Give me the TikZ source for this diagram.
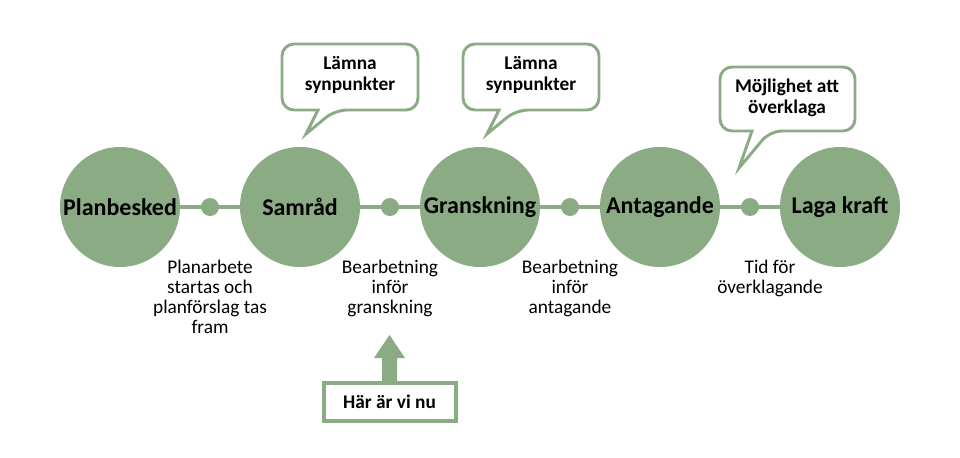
\documentclass[tikz,border=0pt]{standalone}
\usepackage{fontspec}
\setmainfont{Carlito}
\definecolor{gr}{HTML}{8AAB84}
\begin{document}
\begin{tikzpicture}[x=0.75pt,y=-0.75pt,
  stage/.style={circle,fill=gr,minimum size=90pt,inner sep=0pt,font=\bfseries\fontsize{18}{20}\selectfont},
  dot/.style={circle,fill=gr,minimum size=13.5pt,inner sep=0pt},
  lab/.style={align=center,font=\fontsize{14.5}{15}\selectfont},
  bub/.style={draw=gr,line width=2.2pt,fill=white,rounded corners=9pt},
  btxt/.style={align=center,font=\bfseries\fontsize{14.5}{16}\selectfont}]
\useasboundingbox (0,0) rectangle (960,457);
\coordinate (L) at (120,207); \coordinate (R) at (840,207);
\draw[gr,line width=3.5pt] (L) -- (R);
\node[stage] (p) at (120,207) {Planbesked};
\node[stage] (s) at (300,207) {Samråd};
\node[stage] (g) at (480,207) {Granskning};
\node[stage] (a) at (660,207) {Antagande};
\node[stage] (k) at (840,207) {Laga kraft};
\foreach \x/\n in {210/d1,390/d2,570/d3,750/d4}{\node[dot] (\n) at (\x,207) {};}
\node[lab,anchor=north] (l1) at (210,255) {Planarbete\\startas och\\planförslag tas\\fram};
\node[lab,anchor=north] (l2) at (390,255) {Bearbetning\\inför\\granskning};
\node[lab,anchor=north] (l3) at (570,255) {Bearbetning\\inför\\antagande};
\node[lab,anchor=north] (l4) at (770,255) {Tid för\\överklagande};
\draw[bub] (282,44) -- (418,44) -- (418,110) -- (335,110) [sharp corners]-- (306,134) -- (318,110) [rounded corners=9pt]-- (282,110) -- cycle;
\node[btxt] (b1) at (350,75) {Lämna\\synpunkter};
\draw[bub] (463,44) -- (599,44) -- (599,110) -- (516,110) [sharp corners]-- (487,134) -- (499,110) [rounded corners=9pt]-- (463,110) -- cycle;
\node[btxt] (b2) at (531,75) {Lämna\\synpunkter};
\draw[bub] (720,67) -- (855,67) -- (855,131) -- (770,131) [sharp corners]-- (739,168) -- (752,131) [rounded corners=9pt]-- (720,131) -- cycle;
\node[btxt] (b3) at (787,98) {Möjlighet att\\överklaga};
\node[draw=gr,line width=3pt,minimum width=99pt,minimum height=28pt,font=\bfseries\fontsize{14.5}{16}\selectfont] (h) at (389.5,402) {Här är vi nu};
\fill[gr] (382,382) -- (382,358) -- (374,358) -- (389.5,335) -- (405,358) -- (397,358) -- (397,382) -- cycle;
\end{tikzpicture}
\end{document}
